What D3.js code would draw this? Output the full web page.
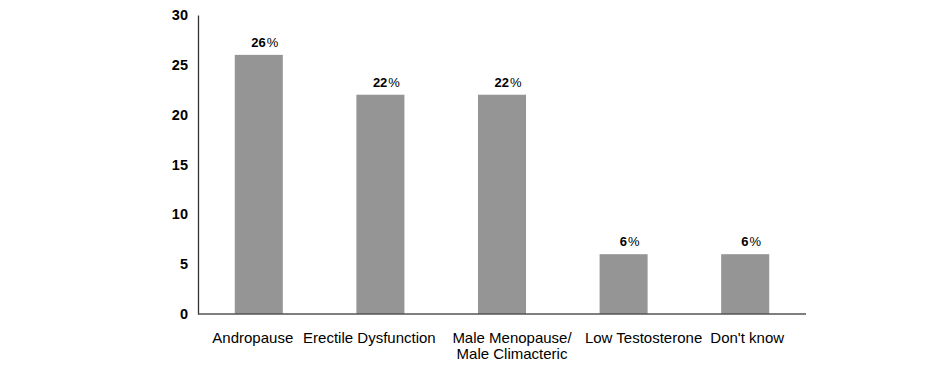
<!DOCTYPE html>
<html><head><meta charset="utf-8">
<script src="https://cdn.jsdelivr.net/npm/d3@7"></script>
<style>body{margin:0;background:#fff;} text{font-family:"Liberation Sans",Arial,sans-serif;}</style>
</head><body><svg id="c" width="940" height="375"></svg>
<script>
const categories = [["Andropause"], ["Erectile Dysfunction"], ["Male Menopause/", "Male Climacteric"], ["Low Testosterone"], ["Don't know"]];
const values = [26, 22, 22, 6, 6];
const yTicks = [0, 5, 10, 15, 20, 25, 30];

const labelShift = [-6, -11, 10, 20, 2];
const svg = d3.select("#c");
const x = d3.scaleBand().domain(d3.range(categories.length)).range([198, 806]).paddingInner(0.605).paddingOuter(0.3025);
const y = d3.scaleLinear().domain([0, 30]).range([314, 15]);

svg.selectAll("rect.bar").data(values).join("rect")
  .attr("x", (d, i) => x(i)).attr("width", x.bandwidth())
  .attr("y", d => y(d)).attr("height", d => y(0) - y(d))
  .attr("fill", "#959595");

const yAxis = svg.append("g").attr("transform", "translate(198,0)")
  .call(d3.axisLeft(y).tickValues(yTicks).tickSize(0).tickPadding(10));
yAxis.select(".domain").attr("stroke", "#333").attr("stroke-width", 1.3);
yAxis.selectAll("text").attr("font-size", 14.5).attr("font-weight", "bold").attr("fill", "#000")
  .attr("font-family", "Liberation Sans, Arial, sans-serif");

const xAxis = svg.append("g").attr("transform", "translate(0,314)")
  .call(d3.axisBottom(x).tickSize(0).tickFormat(""));
xAxis.select(".domain").attr("stroke", "#555").attr("stroke-width", 1.3).attr("d", "M198,0H806");

svg.selectAll("text.cat").data(categories).join("text").attr("class", "cat")
  .attr("x", (d, i) => x(i) + x.bandwidth() / 2 + labelShift[i])
  .attr("y", 343).attr("text-anchor", "middle").attr("font-size", 15).attr("fill", "#000")
  .each(function(d) {
    const t = d3.select(this);
    const cx = t.attr("x");
    d.forEach((line, k) => t.append("tspan").attr("x", cx).attr("dy", k === 0 ? 0 : 16).text(line));
  });

svg.selectAll("text.val").data(values).join("text").attr("class", "val")
  .attr("x", (d, i) => x(i) + x.bandwidth() / 2 + 6)
  .attr("y", d => y(d) - 8).attr("text-anchor", "middle").attr("font-size", 13).attr("fill", "#000")
  .each(function(d) {
    const t = d3.select(this);
    t.append("tspan").attr("font-weight", "bold").text(d);
    t.append("tspan").attr("font-size", 13).attr("dx", 1).text("%");
  });
</script></body></html>
